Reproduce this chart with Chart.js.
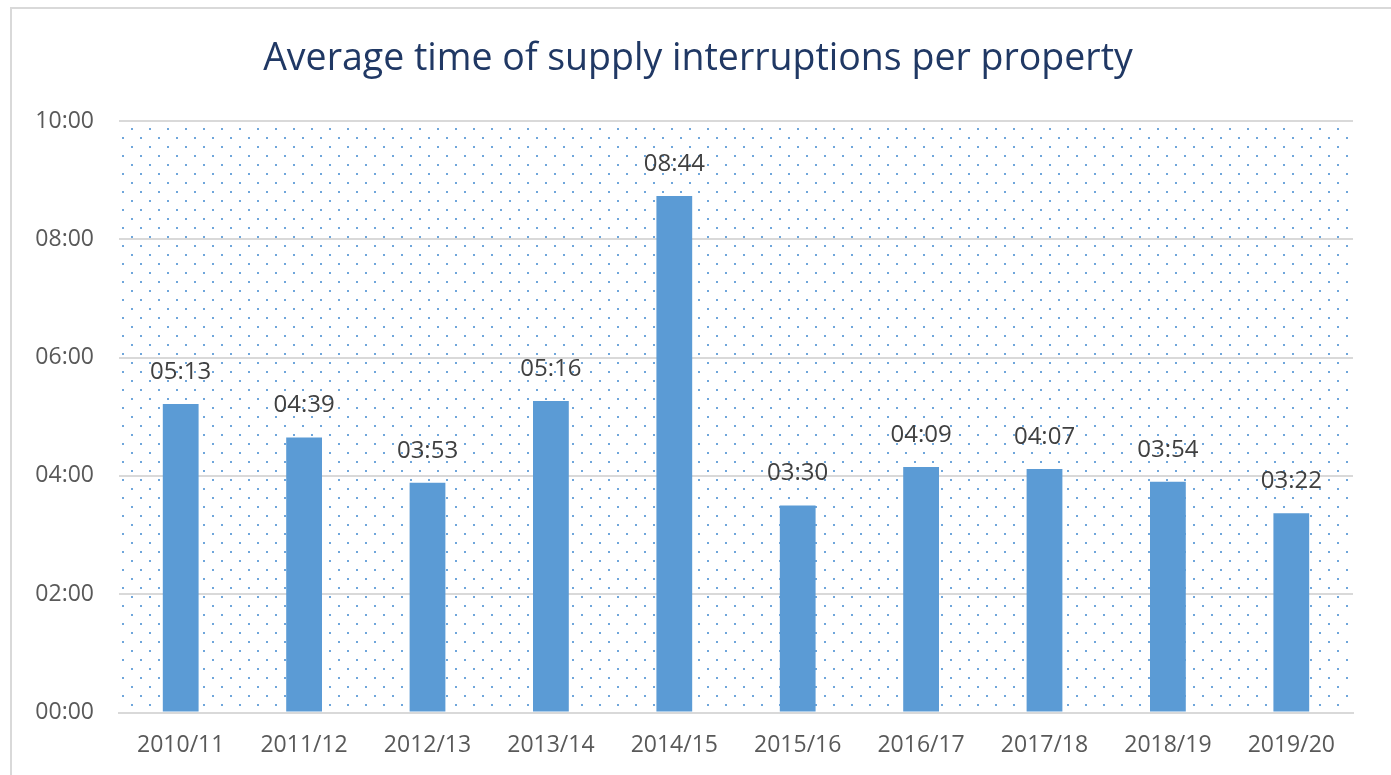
<!DOCTYPE html>
<html>
<head>
<meta charset="utf-8">
<script src="https://cdn.jsdelivr.net/npm/chart.js@4.4.1/dist/chart.umd.min.js"></script>
<style>
  body { margin: 0; background: #fff; }
  #wrap { position: relative; width: 1391px; height: 775px; overflow: hidden; }
  #frame { position: absolute; left: 10px; top: 7px; width: 1400px; height: 800px; border: 2px solid #d9d9d9; box-sizing: border-box; }
  #myChart { position: absolute; left: 0; top: 0; }
</style>
</head>
<body>
<div id="wrap">
  <div id="frame"></div>
  <canvas id="myChart" width="1391" height="775"></canvas>
</div>
<script>
var chartTitle = 'Average time of supply interruptions per property';
var years = ['2010/11', '2011/12', '2012/13', '2013/14', '2014/15', '2015/16', '2016/17', '2017/18', '2018/19', '2019/20'];
// hh:mm as shown on the chart
var durations = ['05:13', '04:39', '03:53', '05:16', '08:44', '03:30', '04:09', '04:07', '03:54', '03:22'];
var axisTicks = ['00:00', '02:00', '04:00', '06:00', '08:00', '10:00'];

function toMinutes(s) {
  var p = s.split(':');
  return parseInt(p[0], 10) * 60 + parseInt(p[1], 10);
}
function fmt(m) {
  var h = Math.floor(m / 60), mm = Math.round(m % 60);
  return (h < 10 ? '0' : '') + h + ':' + (mm < 10 ? '0' : '') + mm;
}

var minutes = durations.map(toMinutes);
var tickMinutes = axisTicks.map(toMinutes);

// dotted fill of the plot area
var dotBackground = {
  id: 'dotBackground',
  beforeDraw: function(chart) {
    var a = chart.chartArea, ctx = chart.ctx;
    var tile = document.createElement('canvas');
    tile.width = 18.4; tile.height = 18.4;
    var t = tile.getContext('2d');
    t.fillStyle = '#6fa6db';
    t.fillRect(2, 6, 2, 2);
    t.fillRect(11, 15, 2, 2);
    var pat = ctx.createPattern(tile, 'repeat');
    ctx.save();
    ctx.translate(a.left + 10, a.top + 1);
    ctx.fillStyle = pat;
    ctx.fillRect(-10, -1, a.right - a.left, a.bottom - a.top);
    ctx.restore();
  }
};

// title drawn by hand so it can sit where the original had it
var titleText = {
  id: 'titleText',
  afterDraw: function(chart) {
    var ctx = chart.ctx;
    ctx.save();
    ctx.font = '37.5px "Open Sans"';
    ctx.fillStyle = '#203864';
    ctx.textAlign = 'center';
    ctx.textBaseline = 'middle';
    ctx.fillText(chartTitle, 698, 59);
    ctx.restore();
  }
};

// value labels above bars
var barLabels = {
  id: 'barLabels',
  afterDatasetsDraw: function(chart) {
    var ctx = chart.ctx;
    var meta = chart.getDatasetMeta(0);
    ctx.save();
    ctx.font = '24px "Open Sans"';
    ctx.fillStyle = '#404040';
    ctx.textAlign = 'center';
    ctx.textBaseline = 'middle';
    meta.data.forEach(function(bar, i) {
      ctx.fillText(durations[i], bar.x, bar.y - 32);
    });
    ctx.restore();
  }
};

var ctx = document.getElementById('myChart').getContext('2d');
var myChart = new Chart(ctx, {
  type: 'bar',
  data: {
    labels: years,
    datasets: [{
      data: minutes,
      backgroundColor: '#5b9bd5',
      barPercentage: 0.29,
      categoryPercentage: 1
    }]
  },
  options: {
    responsive: false,
    animation: false,
    layout: { padding: { left: 0, right: 38, top: 121, bottom: 0 } },
    plugins: {
      legend: { display: false },
      tooltip: { enabled: false },
      title: { display: false }
    },
    scales: {
      x: {
        grid: { display: false, drawTicks: false },
        border: { color: '#d9d9d9', width: 2 },
        ticks: { color: '#595959', font: { family: 'Open Sans', size: 23, lineHeight: 1.2 }, padding: 19, maxRotation: 0 },
        afterFit: function(s) { s.height = 62.5; }
      },
      y: {
        min: 0,
        max: 600,
        afterBuildTicks: function(s) { s.ticks = tickMinutes.map(function(v) { return { value: v }; }); },
        grid: { color: '#d9d9d9', lineWidth: 2, drawTicks: false },
        border: { display: false },
        ticks: {
          color: '#595959',
          font: { family: 'Open Sans', size: 23 },
          padding: 25,
          callback: function(v) { return fmt(v); }
        },
        afterFit: function(s) { s.width = 119; }
      }
    }
  },
  plugins: [dotBackground, barLabels, titleText]
});
</script>
</body>
</html>
